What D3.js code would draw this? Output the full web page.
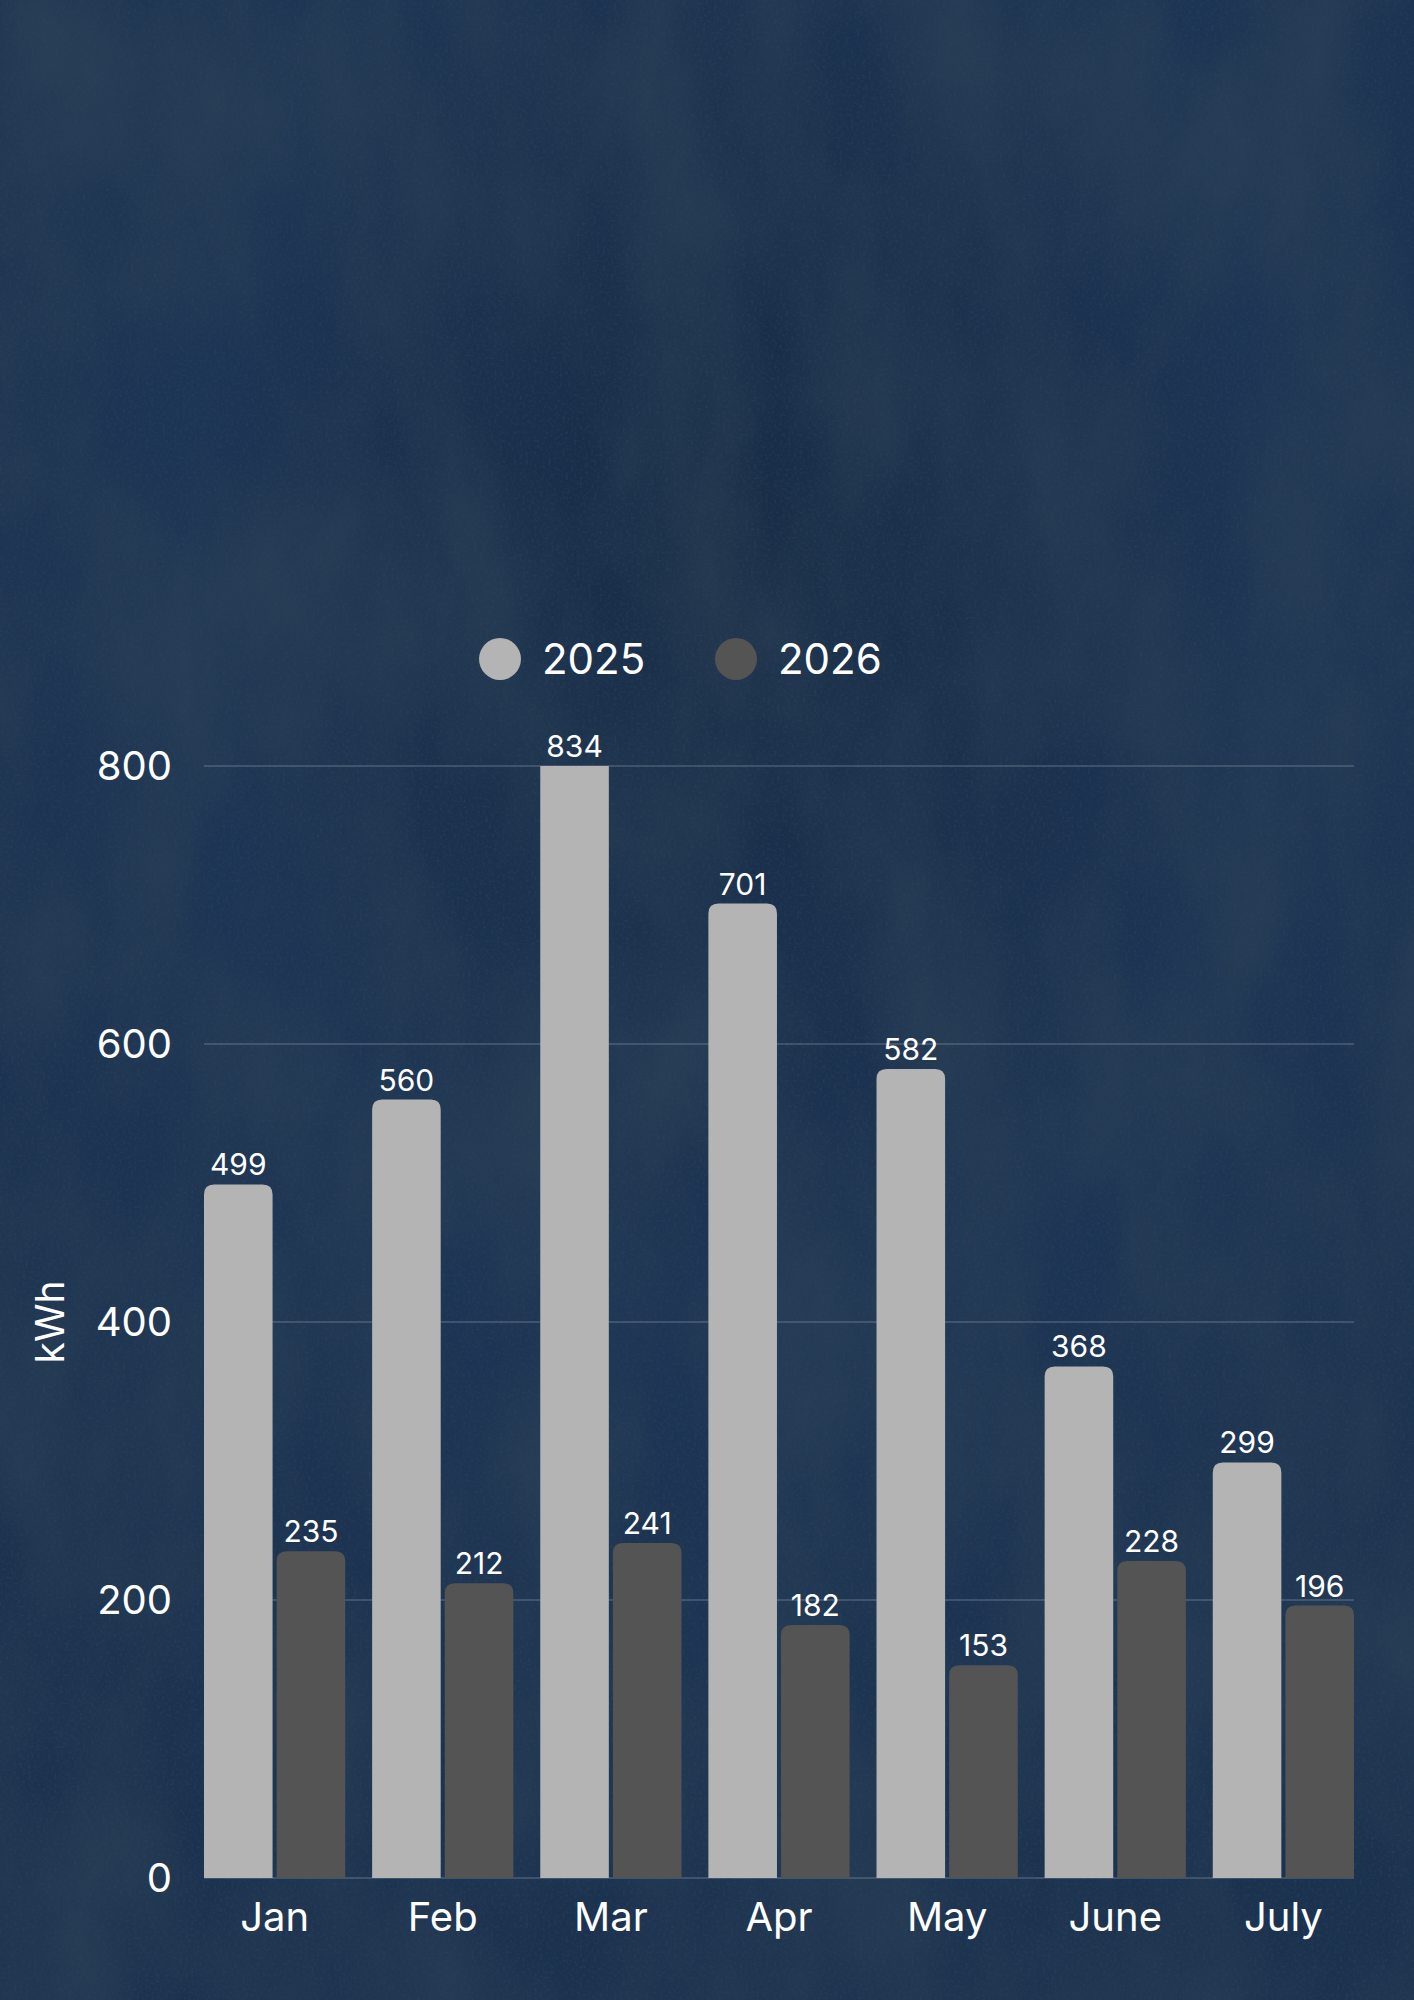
<!DOCTYPE html>
<html>
<head>
<meta charset="utf-8">
<script src="https://cdn.jsdelivr.net/npm/d3@7/dist/d3.min.js"></script>
<style>
  html, body { margin: 0; padding: 0; background: #1b324f; }
  svg { display: block; }
  text { font-family: Inter, "Noto Sans", sans-serif; fill: #ffffff; }
</style>
</head>
<body>
<svg id="chart" width="1414" height="2000"></svg>
<script>
const months = ["Jan", "Feb", "Mar", "Apr", "May", "June", "July"];
const seriesNames = ["2025", "2026"];
const values2025 = [499, 560, 834, 701, 582, 368, 299];
const values2026 = [235, 212, 241, 182, 153, 228, 196];
const yTicks = [0, 200, 400, 600, 800];
const seriesColors = ["#b4b4b4", "#545454"];
const yTitle = "kWh";

const W = 1414, H = 2000;
const margin = { left: 204, right: 60, top: 766, bottom: 122 };
const svg = d3.select("#chart");

// ---- background texture ----
const defs = svg.append("defs");
const f1 = defs.append("filter").attr("id", "tex").attr("x", 0).attr("y", 0).attr("width", "100%").attr("height", "100%");
f1.append("feTurbulence").attr("type", "fractalNoise").attr("baseFrequency", "0.008 0.004").attr("numOctaves", 6).attr("seed", 5).attr("result", "n");
f1.append("feColorMatrix").attr("in", "n").attr("type", "matrix")
  .attr("values", "0 0 0 0 0.03  0 0 0 0 0.06  0 0 0 0 0.10  1.3 0 0 0 -0.35");
const f2 = defs.append("filter").attr("id", "grain").attr("x", 0).attr("y", 0).attr("width", "100%").attr("height", "100%");
f2.append("feTurbulence").attr("type", "fractalNoise").attr("baseFrequency", "0.35").attr("numOctaves", 3).attr("seed", 3).attr("result", "g");
f2.append("feColorMatrix").attr("in", "g").attr("type", "matrix")
  .attr("values", "0 0 0 0 0.03  0 0 0 0 0.06  0 0 0 0 0.11  -2.4 0 0 0 1.25");
const rg = defs.append("radialGradient").attr("id", "vig").attr("cx", "0.52").attr("cy", "0.28").attr("r", "0.7");
rg.append("stop").attr("offset", "0").attr("stop-color", "#0b1524").attr("stop-opacity", 0.35);
rg.append("stop").attr("offset", "0.55").attr("stop-color", "#0b1524").attr("stop-opacity", 0.05);
rg.append("stop").attr("offset", "1").attr("stop-color", "#0b1524").attr("stop-opacity", 0.15);

svg.append("rect").attr("width", W).attr("height", H).attr("fill", "#1e3757");
svg.append("rect").attr("width", W).attr("height", H).attr("fill", "url(#vig)");
svg.append("rect").attr("width", W).attr("height", H).attr("filter", "url(#tex)").attr("opacity", 0.75);
svg.append("rect").attr("width", W).attr("height", H).attr("filter", "url(#grain)").attr("opacity", 0.45);

// ---- scales ----
const x0 = d3.scaleBand().domain(months).range([margin.left, W - margin.right]).paddingInner(0.16).paddingOuter(0);
const x1 = d3.scaleBand().domain(seriesNames).range([0, x0.bandwidth()]).paddingInner(0.056);
const y = d3.scaleLinear().domain([0, 800]).range([H - margin.bottom, margin.top]);

// ---- gridlines ----
svg.append("g").selectAll("line").data(yTicks).join("line")
  .attr("x1", margin.left).attr("x2", W - margin.right)
  .attr("y1", d => y(d)).attr("y2", d => y(d))
  .attr("stroke", "#8c9aab").attr("stroke-opacity", 0.6).attr("stroke-width", 1.2);

// ---- y tick labels ----
svg.append("g").selectAll("text").data(yTicks).join("text")
  .attr("x", 172).attr("y", d => y(d)).attr("dy", "0.36em")
  .attr("text-anchor", "end").attr("font-size", 40).text(d => d);

// ---- y title ----
svg.append("text").attr("transform", `translate(64,${(y(0) + y(800)) / 2}) rotate(-90)`)
  .attr("text-anchor", "middle").attr("font-size", 39).text(yTitle);

// ---- bars ----
defs.append("clipPath").attr("id", "plotclip").append("rect")
  .attr("x", 0).attr("y", y(800)).attr("width", W).attr("height", y(0) - y(800) + 1);

const data = months.map((m, i) => ({ month: m, vals: [values2025[i], values2026[i]] }));
const r = 10;
function barPath(x, w, top, bottom) {
  const rr = Math.min(r, (bottom - top), w / 2);
  return `M${x},${bottom}V${top + rr}Q${x},${top} ${x + rr},${top}H${x + w - rr}Q${x + w},${top} ${x + w},${top + rr}V${bottom}Z`;
}
const groups = svg.append("g").attr("clip-path", "url(#plotclip)")
  .selectAll("g").data(data).join("g")
  .attr("transform", d => `translate(${x0(d.month)},0)`);
groups.selectAll("path").data(d => d.vals.map((v, j) => ({ key: seriesNames[j], v, j }))).join("path")
  .attr("d", d => barPath(x1(d.key), x1.bandwidth(), y(d.v), y(0)))
  .attr("fill", d => seriesColors[d.j]);

// ---- value labels ----
const lab = svg.append("g").selectAll("g").data(data).join("g")
  .attr("transform", d => `translate(${x0(d.month)},0)`);
lab.selectAll("text").data(d => d.vals.map((v, j) => ({ key: seriesNames[j], v, j }))).join("text")
  .attr("x", d => x1(d.key) + x1.bandwidth() / 2)
  .attr("y", d => Math.max(y(d.v), y(800)) - 9)
  .attr("text-anchor", "middle").attr("font-size", 30).text(d => d.v);

// ---- x axis labels ----
svg.append("g").selectAll("text").data(months).join("text")
  .attr("x", d => x0(d) + x0.bandwidth() / 2).attr("y", 1931)
  .attr("text-anchor", "middle").attr("font-size", 40).text(d => d);

// ---- legend ----
const legX = [500, 736];
const leg = svg.append("g").selectAll("g").data(seriesNames).join("g")
  .attr("transform", (d, i) => `translate(${legX[i]},659)`);
leg.append("circle").attr("r", 21).attr("fill", (d, i) => seriesColors[i]);
leg.append("text").attr("x", 42).attr("y", 15).attr("font-size", 42).text(d => d);
</script>
</body>
</html>
